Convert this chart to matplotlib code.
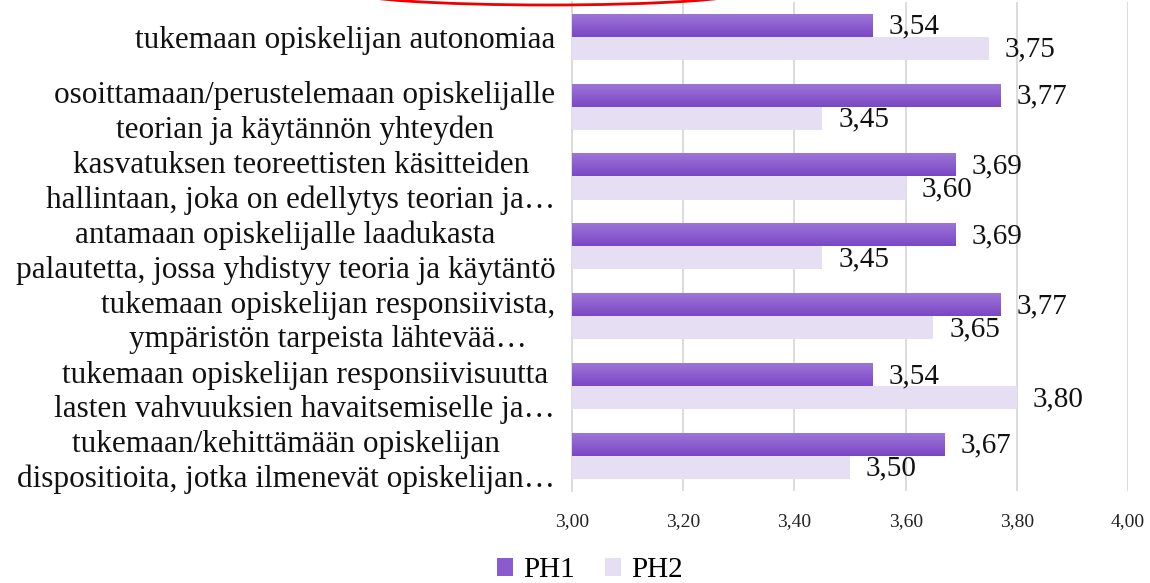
import numpy as np
import matplotlib
matplotlib.use("Agg")
import matplotlib.pyplot as plt
from matplotlib.patches import Ellipse
from matplotlib.ticker import FuncFormatter

plt.rcParams['font.family'] = ['Liberation Serif', 'DejaVu Serif']

categories = [
    "tukemaan opiskelijan autonomiaa",
    "osoittamaan/perustelemaan opiskelijalle\nteorian ja käytännön yhteyden",
    "kasvatuksen teoreettisten käsitteiden\nhallintaan, joka on edellytys teorian ja…",
    "antamaan opiskelijalle laadukasta\npalautetta, jossa yhdistyy teoria ja käytäntö",
    "tukemaan opiskelijan responsiivista,\nympäristön tarpeista lähtevää…",
    "tukemaan opiskelijan responsiivisuutta\nlasten vahvuuksien havaitsemiselle ja…",
    "tukemaan/kehittämään opiskelijan\ndispositioita, jotka ilmenevät opiskelijan…",
]
ph1 = [3.54, 3.77, 3.69, 3.69, 3.77, 3.54, 3.67]
ph2 = [3.75, 3.45, 3.60, 3.45, 3.65, 3.80, 3.50]
xticks = [3.0, 3.2, 3.4, 3.6, 3.8, 4.0]

ph1_color = "#8a5bcf"
ph1_top, ph1_bottom = "#9e77d8", "#7b47c5"
ph2_color = "#e6dff3"
grid_color = "#d9d9d9"

fig = plt.figure(figsize=(11.5, 5.83), dpi=100)
ax = fig.add_axes([0.4974, 0.158, 0.4835, 0.839])

y = np.arange(len(categories))
h = 0.33
base = 3.0

bars1 = ax.barh(y - h / 2, np.array(ph1) - base, left=base, height=h,
                color=ph1_color, label="PH1", zorder=3)
bars2 = ax.barh(y + h / 2, np.array(ph2) - base, left=base, height=h,
                color=ph2_color, label="PH2", zorder=3)

# vertical gradient on the PH1 bars
c_top = np.array(matplotlib.colors.to_rgb(ph1_top))
c_bot = np.array(matplotlib.colors.to_rgb(ph1_bottom))
t = np.linspace(0, 1, 64)[:, None, None]
grad = c_top * (1 - t) + c_bot * t
for b in bars1:
    x0, y0 = b.get_x(), b.get_y()
    im = ax.imshow(grad, extent=(x0, x0 + b.get_width(), y0 + b.get_height(), y0),
                   origin="upper", aspect="auto", zorder=4, interpolation="bilinear")
    im.set_clip_path(b)

for bars, vals in ((bars1, ph1), (bars2, ph2)):
    for b, v in zip(bars, vals):
        ax.annotate(f"{v:.2f}".replace(".", ","), (v, b.get_y() + b.get_height() / 2),
                    xytext=(11.5, -1), textcoords="offset points",
                    va="center", ha="left", fontsize=21, color="#111111", zorder=5)

ax.set_xlim(3.0, 4.0)
ax.set_ylim(len(categories) - 0.5, -0.5)
ax.set_xticks(xticks)
ax.xaxis.set_major_formatter(FuncFormatter(lambda v, p: f"{v:.2f}".replace(".", ",")))
ax.tick_params(axis="x", length=0, labelsize=14, pad=16, colors="#222222")
ax.set_yticks(y)
ax.set_yticklabels(categories, fontsize=22.5, multialignment="center", linespacing=1.25)
ax.tick_params(axis="y", length=0, pad=12, colors="#111111")

ax.grid(axis="x", color=grid_color, linewidth=1.3, zorder=0)
for s in ["top", "right", "bottom"]:
    ax.spines[s].set_visible(False)
ax.spines["left"].set_color(grid_color)
ax.spines["left"].set_linewidth(1.3)

fig.legend(handles=[bars1, bars2], labels=["PH1", "PH2"], loc="center",
           bbox_to_anchor=(0.513, 0.022), ncol=2, frameon=False, fontsize=21,
           handlelength=0.55, handleheight=0.55, handletextpad=0.35, columnspacing=1.0)

# red annotation arc cut off at the top edge
arc = Ellipse((548 / 1150, 1 + 8 / 583), 394 / 1150, 26 / 583, transform=fig.transFigure,
              fill=False, edgecolor="#ee0000", linewidth=2.0)
fig.add_artist(arc)

fig.savefig("out.png", dpi=100)
